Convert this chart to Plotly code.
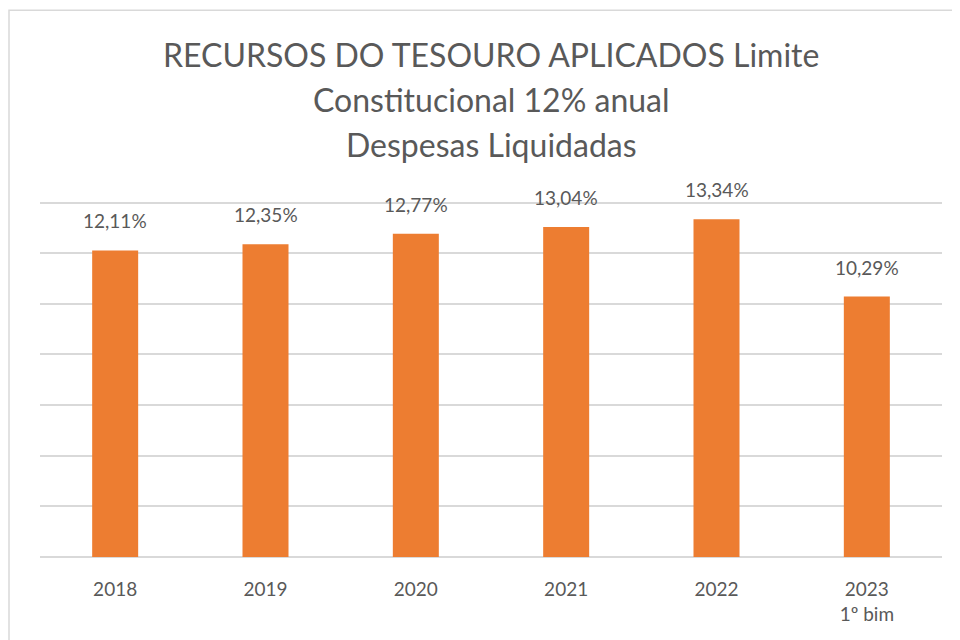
import plotly.graph_objects as go

categories = ["2018", "2019", "2020", "2021", "2022", "2023<br>1º bim"]
values = [12.11, 12.35, 12.77, 13.04, 13.34, 10.29]
labels = ["12,11%", "12,35%", "12,77%", "13,04%", "13,34%", "10,29%"]
title_lines = ["RECURSOS DO TESOURO APLICADOS Limite", "Constitucional 12% anual", "Despesas Liquidadas"]

FONT = "Lato, 'Open Sans', sans-serif"
TXT = "#595959"
GRID = "#D9D9D9"

# page body has an 8px margin: figure coordinates = page coordinates - 8
OFF = 8
YMAX = 14.3
PX_PER_UNIT = 354 / 14
L, R_ = 40 - OFF, 942 - OFF
B = 557 - OFF
T = B - PX_PER_UNIT * YMAX
W, H = 960 - OFF, 640 - OFF
PW, PH = R_ - L, B - T

fig = go.Figure()
fig.add_trace(go.Bar(x=categories, y=values, text=labels, textposition="none",
                     marker=dict(color="#ED7D31", line=dict(width=0)), hoverinfo="skip"))

annotations = []
for i, (v, t) in enumerate(zip(values, labels)):
    annotations.append(dict(x=i, y=v, text=t, showarrow=False, xref="x", yref="y",
                            yanchor="bottom", yshift=16,
                            font=dict(family=FONT, size=19, color=TXT)))
title_y = [55, 100, 145]
for line, yy in zip(title_lines, title_y):
    annotations.append(dict(x=0.5, y=(B - (yy - OFF)) / PH, xref="paper", yref="paper", text=line,
                            showarrow=False, xanchor="center", yanchor="middle",
                            font=dict(family=FONT, size=32, color=TXT)))

fig.update_layout(
    width=W, height=H,
    margin=dict(l=L, r=W - R_, t=T, b=H - B, autoexpand=False),
    paper_bgcolor="white", plot_bgcolor="white",
    bargap=0.694,
    showlegend=False,
    annotations=annotations,
    xaxis=dict(type="category", range=[-0.5, 5.5], showgrid=False, showline=False,
               ticks="outside", ticklen=15, tickcolor="rgba(0,0,0,0)", zeroline=False,
               tickfont=dict(family=FONT, size=19, color=TXT)),
    yaxis=dict(range=[0, YMAX], dtick=2, showticklabels=False, showgrid=True,
               gridcolor=GRID, gridwidth=1.5, zeroline=True, zerolinecolor=GRID, zerolinewidth=1.5,
               showline=False, ticks=""),
    shapes=[dict(type="rect", xref="paper", yref="paper",
                 x0=(9 - 40) / PW, x1=(975 - 40) / PW,
                 y0=(B - (655 - OFF)) / PH, y1=(B - (11 - OFF)) / PH,
                 line=dict(color=GRID, width=1.5), fillcolor="rgba(0,0,0,0)", layer="below")],
)

fig.write_html("out.html")
